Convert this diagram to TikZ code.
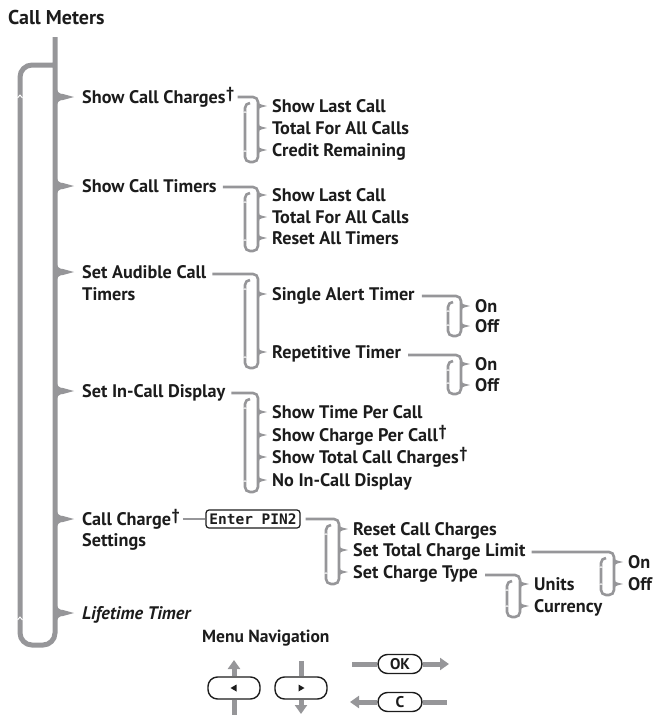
\documentclass[tikz,border=0pt]{standalone}
\usepackage{fontspec}
\setmainfont{PT Sans}
\setmonofont{DejaVu Sans Mono}
\usetikzlibrary{arrows.meta}
\definecolor{lg}{RGB}{150,150,153}
\definecolor{ink}{RGB}{28,28,28}
\newcommand\dg{\kern0.6pt\raisebox{4.5pt}{\fontsize{16}{16}\selectfont †}}
\tikzset{
  mainline/.style={draw=lg, line width=5pt, rounded corners=12pt},
  subline/.style={draw=lg, line width=2.6pt, rounded corners=5pt},
  notch/.style={draw=white, line width=0.7pt},
  item/.style={anchor=base west, inner sep=0pt, text=ink, font=\fontsize{18.2}{20}\selectfont\bfseries},
  titletext/.style={anchor=base west, inner sep=0pt, text=ink, font=\fontsize{20}{22}\selectfont\bfseries},
  pinbox/.style={draw=ink, line width=1.2pt, rounded corners=3pt, minimum width=94pt, minimum height=18pt, inner sep=0pt, text=ink, font=\fontsize{14.5}{15}\selectfont\ttfamily\bfseries},
  pill/.style={draw=ink, line width=1.4pt, rounded corners=9.5pt, inner sep=0pt, text=ink, font=\fontsize{15.5}{15}\selectfont\bfseries},
  navline/.style={draw=lg, line width=5pt},
  navarrow/.style={draw=lg, line width=5pt, -{Triangle[length=9pt,width=12pt]}},
}
% main-line cusp pointing right at height #1
\newcommand\mcusp[1]{\fill[lg] (56,#1-14) .. controls (56,#1-4) and (60,#1-3) .. (63,#1-3) -- (74,#1) -- (63,#1+3) .. controls (60,#1+3) and (56,#1+4) .. (56,#1+14) -- cycle;}
% small cusp on a sub bracket at x=#1, height #2
\newcommand\scusp[2]{\fill[lg] (#1+0.8,#2-6) .. controls (#1+0.8,#2-2) and (#1+2,#2-1.3) .. (#1+4,#2-1.3) -- (#1+9,#2) -- (#1+4,#2+1.3) .. controls (#1+2,#2+1.3) and (#1+0.8,#2+2) .. (#1+0.8,#2+6) -- cycle;}
% child text: name, R, y, text
\newcommand\kid[4]{\scusp{#2}{#3}\node[item] (#1) at (#2+14,#3+6) {#4};}
% bracket: parent node, xshift, yt, R, L, yb
\newcommand\brk[6]{%
  \path ([xshift=#2]#1.east) coordinate (#1s);
  \draw[subline] (#1s |- 0,#3) -- (#4,#3) -- (#4,#6) -- (#5,#6) -- (#5,#3+6) -- (#5+5,#3+6);
  \draw[notch] (#5-1.3,#3+16) -- (#5,#3+14.5) -- (#5+1.3,#3+16);
  \draw[notch] (#5-1.3,#6-10) -- (#5,#6-11.5) -- (#5+1.3,#6-10);
}
\begin{document}
\begin{tikzpicture}[x=1pt,y=-1pt]
\path[use as bounding box] (0,0) rectangle (657,715);

\node[titletext] (title) at (8,24.5) {Call Meters};

% main loop
\draw[mainline] (55,37) -- (55,645) -- (20,645) -- (20,65) -- (53,65);
\draw[draw=white, line width=0.9pt] (17.5,98) -- (20,95) -- (22.5,98);
\draw[draw=white, line width=0.9pt] (17.5,620) -- (20,617) -- (22.5,620);

\foreach \yy in {97,186,272,391,519,613} {\mcusp{\yy}}

% main items
\node[item] (p1) at (82,103) {Show Call Charges\dg};
\node[item] (p2) at (82,192) {Show Call Timers};
\node[item] (p3) at (82,278) {Set Audible Call};
\node[item] (p3b) at (82,300) {Timers};
\node[item] (p4) at (82,397) {Set In-Call Display};
\node[item] (p5) at (82,525) {Call Charge\dg};
\node[item] (p5b) at (82,546) {Settings};
\node[item, font=\fontsize{18.2}{20}\selectfont\bfseries\itshape] (p6) at (82,619) {Lifetime Timer};

% group 1
\brk{p1}{3pt}{97}{258}{245}{162}
\kid{c11}{258}{106}{Show Last Call}
\kid{c12}{258}{128}{Total For All Calls}
\kid{c13}{258}{150}{Credit Remaining}

% group 2
\brk{p2}{6pt}{187}{258}{245}{251}
\kid{c21}{258}{195}{Show Last Call}
\kid{c22}{258}{217}{Total For All Calls}
\kid{c23}{258}{238}{Reset All Timers}

% group 3
\brk{p3}{6pt}{274}{258}{245}{368}
\kid{c31}{258}{294}{Single Alert Timer}
\kid{c32}{258}{352}{Repetitive Timer}
\brk{c31}{7pt}{296}{461}{448}{336}
\kid{c311}{461}{306}{On}
\kid{c312}{461}{326}{Off}
\brk{c32}{7pt}{355}{461}{448}{394}
\kid{c321}{461}{364}{On}
\kid{c322}{461}{385}{Off}

% group 4
\brk{p4}{6pt}{393}{258}{245}{492}
\kid{c41}{258}{412}{Show Time Per Call}
\kid{c42}{258}{435}{Show Charge Per Call\dg}
\kid{c43}{258}{457}{Show Total Call Charges\dg}
\kid{c44}{258}{480}{No In-Call Display}

% group 5
\node[pinbox] (pin) at (253,519) {Enter PIN2};
\path ([xshift=3pt]p5.east) coordinate (p5s);
\draw[draw=lg, line width=2.6pt] (p5s |- pin.west) -- (pin.west);
\brk{pin}{5pt}{519}{339}{326}{584}
\kid{c51}{339}{529}{Reset Call Charges}
\kid{c52}{339}{550}{Set Total Charge Limit}
\kid{c53}{339}{572}{Set Charge Type}
\brk{c52}{6pt}{552}{614}{601}{595}
\kid{c521}{614}{562}{On}
\kid{c522}{614}{584}{Off}
\brk{c53}{7pt}{575}{520}{507}{617}
\kid{c531}{520}{584}{Units}
\kid{c532}{520}{606}{Currency}

% navigation
\node[item, font=\fontsize{17.5}{19}\selectfont\bfseries] (nav) at (202,642) {Menu Navigation};

\node[pill, minimum width=52pt, minimum height=22pt] (bl) at (234,688) {};
\fill[ink] (230.5,688) -- (236.5,684.5) -- (236.5,691.5) -- cycle;
\node[pill, minimum width=52pt, minimum height=22pt] (br) at (301,688) {};
\fill[ink] (304.5,688) -- (298.5,684.5) -- (298.5,691.5) -- cycle;
\coordinate (blu) at (234,660);
\coordinate (bld) at (234,715);
\coordinate (bru) at (301,661);
\coordinate (brd) at (301,714);
\draw[navarrow] (bl.north) -- (blu);
\draw[navline] (bl.south) -- (bld);
\draw[navline] (bru) -- (br.north);
\draw[navarrow] (br.south) -- (brd);

\node[pill, minimum width=44pt, minimum height=19pt] (ok) at (400,664) {OK};
\node[pill, minimum width=44pt, minimum height=19pt] (cc) at (400,702) {C};
\coordinate (okl) at (352,664);
\coordinate (okr) at (449,664);
\coordinate (ccl) at (350,702);
\coordinate (ccr) at (447,702);
\draw[navline] (okl) -- (ok.west);
\draw[navarrow] (ok.east) -- (okr);
\draw[navarrow] (cc.west) -- (ccl);
\draw[navline] (cc.east) -- (ccr);
\end{tikzpicture}
\end{document}
